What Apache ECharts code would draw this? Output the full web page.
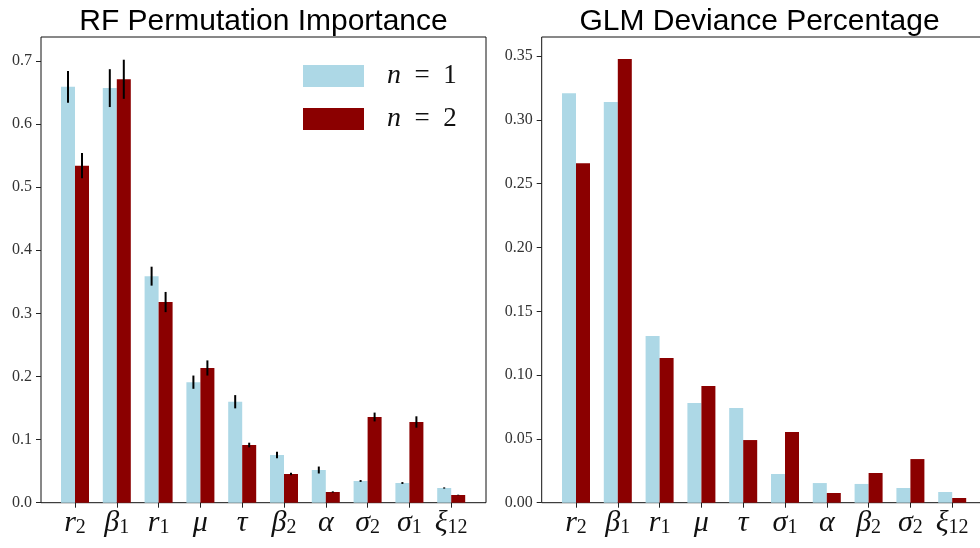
<!DOCTYPE html>
<html>
<head>
<meta charset="utf-8">
<script src="https://cdn.jsdelivr.net/npm/echarts@6/dist/echarts.min.js"></script>
<style>
  html, body { margin: 0; padding: 0; background: #fff; }
  #chart { width: 980px; height: 548px; }
</style>
</head>
<body>
<div id="chart"></div>
<script>
// categories, "main|subscript"
const rfCats = ['r|2', 'β|1', 'r|1', 'μ|', 'τ|', 'β|2', 'α|', 'σ|2', 'σ|1', 'ξ|12'];
const glmCats = ['r|2', 'β|1', 'r|1', 'μ|', 'τ|', 'σ|1', 'α|', 'β|2', 'σ|2', 'ξ|12'];

// RF permutation importance (mean) and error half-length
const rfN1 = [0.659, 0.657, 0.359, 0.191, 0.160, 0.0756, 0.0518, 0.0344, 0.0312, 0.0233];
const rfN2 = [0.534, 0.671, 0.318, 0.2135, 0.0914, 0.0455, 0.017, 0.1358, 0.1279, 0.0122];
const rfErrN1 = [0.025, 0.030, 0.015, 0.0105, 0.0105, 0.005, 0.0055, 0.0015, 0.0015, 0.001];
const rfErrN2 = [0.020, 0.031, 0.016, 0.012, 0.0037, 0.002, 0.001, 0.007, 0.009, 0.0005];

// GLM deviance percentage
const glmN1 = [0.321, 0.314, 0.1306, 0.0781, 0.0742, 0.0225, 0.0154, 0.0147, 0.0115, 0.0084];
const glmN2 = [0.266, 0.3477, 0.1134, 0.0915, 0.0491, 0.0554, 0.0076, 0.0233, 0.0342, 0.0037];

// tick labels
const rfTicks = [0, 0.1, 0.2, 0.3, 0.4, 0.5, 0.6, 0.7];
const glmTicks = [0, 0.05, 0.10, 0.15, 0.20, 0.25, 0.30, 0.35];

const LIGHT = '#ADD8E6';
const DARK = '#8B0000';
const BAR_W = 14;

const chart = echarts.init(document.getElementById('chart'));

// x 轴的数学标签（主符号 + 下标）
const catLabel = {
    show: true,
    interval: 0,
    margin: 5,
    color: '#111',
    formatter: v => {
        const [m, s] = v.split('|');
        return s ? `{m|${m}}{s|${s}}` : `{m|${m}}`;
    },
    rich: {
        m: { fontFamily: 'Liberation Serif', fontStyle: 'italic', fontSize: 30, lineHeight: 30, color: '#111' },
        s: { fontFamily: 'Liberation Serif', fontSize: 20, lineHeight: 12, verticalAlign: 'bottom', color: '#111' }
    }
};

const tickStyle = { lineStyle: { color: '#222', width: 1 } };

function catAxis(grid, cats) {
    return {
        type: 'category', gridIndex: grid, data: cats,
        axisLine: { show: false },
        axisTick: { show: true, interval: 0, alignWithLabel: true, inside: false, length: 5, ...tickStyle },
        axisLabel: catLabel,
        splitLine: { show: false }
    };
}

function valAxis(grid, max, ticks, digits) {
    return {
        type: 'value', gridIndex: grid, min: 0, max: max,
        axisLine: { show: false },
        axisTick: { show: true, length: 5, customValues: ticks, ...tickStyle },
        axisLabel: {
            show: true, margin: 9, customValues: ticks,
            fontFamily: 'Liberation Serif', fontSize: 16, color: '#333',
            formatter: v => v.toFixed(digits)
        },
        splitLine: { show: false }
    };
}

function hiddenY(grid, max) {
    return { type: 'value', gridIndex: grid, min: 0, max: max, show: false, splitLine: { show: false } };
}

// 误差线
function errBar(off) {
    return function (params, api) {
        const i = api.value(0), v = api.value(1), e = api.value(2);
        const a = api.coord([i, v + e]);
        const b = api.coord([i, v - e]);
        return {
            type: 'line',
            shape: { x1: a[0] + off, y1: a[1], x2: b[0] + off, y2: b[1] },
            style: { stroke: '#000', lineWidth: 2 }
        };
    };
}

const RF_MAX = 0.738, GLM_MAX = 0.365;
const frame = { show: true, borderColor: '#111', borderWidth: 1, backgroundColor: 'transparent' };
const noBounds = { outerBoundsMode: 'none', containLabel: false };

const option = {
    animation: false,
    backgroundColor: '#fff',
    title: [
        { text: 'RF Permutation Importance', left: 258.5, top: 2, textAlign: 'center',
          textStyle: { fontFamily: 'Liberation Sans', fontSize: 30, fontWeight: 'normal', color: '#000' } },
        { text: 'GLM Deviance Percentage', left: 754.5, top: 2, textAlign: 'center',
          textStyle: { fontFamily: 'Liberation Sans', fontSize: 30, fontWeight: 'normal', color: '#000' } }
    ],
    legend: {
        orient: 'vertical', left: 303, top: 62, padding: 0,
        itemWidth: 61, itemHeight: 22, itemGap: 15, icon: 'rect',
        data: ['n1', 'n2'],
        formatter: name => name === 'n1' ? '{i|n}{t|  =  1}' : '{i|n}{t|  =  2}',
        textStyle: {
            rich: {
                i: { fontFamily: 'Liberation Serif', fontStyle: 'italic', fontSize: 28, color: '#111', padding: [0, 0, 0, 18] },
                t: { fontFamily: 'Liberation Serif', fontSize: 27, color: '#111' }
            }
        }
    },
    grid: [
        { left: 41, top: 37, width: 445, height: 465.7, ...frame, ...noBounds },
        { left: 54.1, top: 37, width: 418, height: 465.7, ...noBounds },
        { left: 541.7, top: 37, width: 445, height: 465.7, ...frame, ...noBounds },
        { left: 555.1, top: 37, width: 418, height: 465.7, ...noBounds }
    ],
    xAxis: [
        { type: 'value', gridIndex: 0, show: false, min: 0, max: 1 },
        catAxis(1, rfCats),
        { type: 'value', gridIndex: 2, show: false, min: 0, max: 1 },
        catAxis(3, glmCats)
    ],
    yAxis: [
        valAxis(0, RF_MAX, rfTicks, 1),
        hiddenY(1, RF_MAX),
        valAxis(2, GLM_MAX, glmTicks, 2),
        hiddenY(3, GLM_MAX)
    ],
    series: [
        { name: 'n1', type: 'bar', xAxisIndex: 1, yAxisIndex: 1, data: rfN1,
          barWidth: BAR_W, barGap: '0%', itemStyle: { color: LIGHT } },
        { name: 'n2', type: 'bar', xAxisIndex: 1, yAxisIndex: 1, data: rfN2,
          barWidth: BAR_W, barGap: '0%', itemStyle: { color: DARK } },
        { name: 'errN1', type: 'custom', xAxisIndex: 1, yAxisIndex: 1, z: 5,
          data: rfN1.map((v, i) => [i, v, rfErrN1[i]]), renderItem: errBar(-BAR_W / 2),
          encode: { x: 0, y: 1 } },
        { name: 'errN2', type: 'custom', xAxisIndex: 1, yAxisIndex: 1, z: 5,
          data: rfN2.map((v, i) => [i, v, rfErrN2[i]]), renderItem: errBar(BAR_W / 2),
          encode: { x: 0, y: 1 } },
        { name: 'n1', type: 'bar', xAxisIndex: 3, yAxisIndex: 3, data: glmN1,
          barWidth: BAR_W, barGap: '0%', itemStyle: { color: LIGHT } },
        { name: 'n2', type: 'bar', xAxisIndex: 3, yAxisIndex: 3, data: glmN2,
          barWidth: BAR_W, barGap: '0%', itemStyle: { color: DARK } }
    ]
};

chart.setOption(option);
</script>
</body>
</html>
